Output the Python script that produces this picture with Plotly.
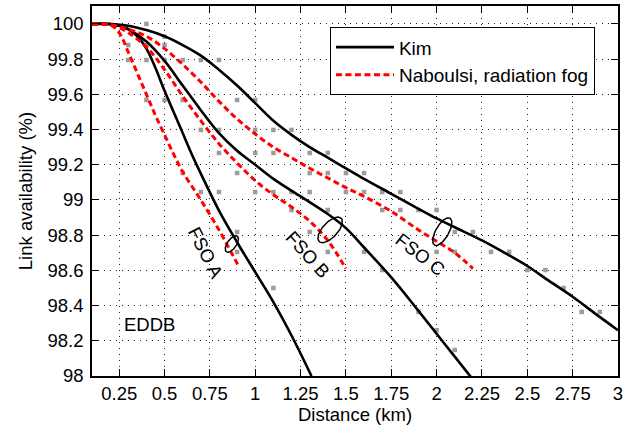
import numpy as np
import plotly.graph_objects as go

# ---------------- data ----------------
kim_a_x = [0.1, 0.2, 0.25, 0.3, 0.35, 0.4, 0.45, 0.5, 0.55, 0.6, 0.65, 0.7, 0.8, 0.9, 1.0, 1.1, 1.2, 1.31]
kim_a_y = [100, 100, 99.99, 99.97, 99.93, 99.86, 99.75, 99.62, 99.50, 99.38, 99.26, 99.15, 98.94, 98.76, 98.59, 98.42, 98.23, 98.0]

nab_a_x = [0.1, 0.15, 0.2, 0.25, 0.3, 0.35, 0.4, 0.45, 0.5, 0.55, 0.6, 0.7, 0.8, 0.9, 0.91]
nab_a_y = [100, 100, 99.995, 99.95, 99.84, 99.72, 99.60, 99.48, 99.37, 99.26, 99.16, 99.0, 98.83, 98.64, 98.62]

kim_b_x = [0.1, 0.2, 0.25, 0.3, 0.4, 0.5, 0.6, 0.7, 0.8, 0.9, 1.0, 1.1, 1.25, 1.4, 1.5, 1.6, 1.75, 1.9, 2.0, 2.1, 2.2]
kim_b_y = [100, 100, 99.99, 99.97, 99.90, 99.79, 99.65, 99.51, 99.38, 99.28, 99.20, 99.12, 99.02, 98.92, 98.84, 98.73, 98.56, 98.37, 98.24, 98.11, 97.98]

nab_b_x = [0.1, 0.2, 0.25, 0.3, 0.4, 0.5, 0.6, 0.7, 0.8, 0.9, 1.0, 1.1, 1.2, 1.3, 1.4, 1.5]
nab_b_y = [100, 99.995, 99.98, 99.95, 99.87, 99.74, 99.59, 99.45, 99.32, 99.21, 99.11, 99.03, 98.96, 98.88, 98.77, 98.61]

kim_c_x = [0.1, 0.2, 0.3, 0.4, 0.5, 0.6, 0.7, 0.8, 0.9, 1.0, 1.1, 1.2, 1.3, 1.4, 1.5, 1.6, 1.75, 1.9, 2.0, 2.1, 2.25, 2.4, 2.5, 2.62, 2.75, 2.88, 3.0]
kim_c_y = [100, 100, 99.99, 99.965, 99.93, 99.88, 99.82, 99.74, 99.65, 99.55, 99.45, 99.37, 99.30, 99.24, 99.18, 99.12, 99.035, 98.95, 98.895, 98.845, 98.77, 98.685, 98.625, 98.54, 98.45, 98.35, 98.26]

nab_c_x = [0.1, 0.2, 0.3, 0.4, 0.5, 0.6, 0.7, 0.8, 0.9, 1.0, 1.1, 1.2, 1.3, 1.4, 1.5, 1.6, 1.75, 1.9, 2.0, 2.1, 2.2]
nab_c_y = [100, 99.995, 99.97, 99.93, 99.86, 99.77, 99.67, 99.56, 99.46, 99.375, 99.30, 99.24, 99.18, 99.125, 99.07, 99.02, 98.935, 98.83, 98.765, 98.70, 98.61]

meas_x = [0.3, 0.3,
          0.4, 0.4, 0.4, 0.4,
          0.5, 0.5, 0.5, 0.5,
          0.6, 0.6, 0.6,
          0.7, 0.7, 0.7,
          0.8, 0.8, 0.8, 0.8,
          0.9, 0.9, 0.9, 0.9,
          1.0, 1.0, 1.0, 1.0,
          1.1, 1.1, 1.1, 1.1,
          1.2, 1.2, 1.2,
          1.3, 1.3, 1.3, 1.3,
          1.4, 1.4, 1.4, 1.4,
          1.5, 1.5,
          1.6, 1.6, 1.6,
          1.7, 1.7, 1.7,
          1.8, 1.8,
          1.9, 1.9,
          2.0, 2.0, 2.0,
          2.1, 2.1, 2.1,
          2.2, 2.3, 2.4, 2.5, 2.6, 2.7, 2.8, 2.9]
meas_y = [99.795, 99.88,
          100, 99.88, 99.795, 99.568,
          99.928, 99.88, 99.795, 99.568,
          99.795, 99.568, 99.153,
          99.795, 99.398, 99.045,
          99.795, 99.398, 99.267, 99.045,
          99.568, 99.153, 98.818, 98.705,
          99.568, 99.398, 99.267, 99.045,
          99.398, 99.267, 99.045, 98.5,
          99.398, 99.045, 98.943,
          99.267, 99.153, 99.045, 98.818,
          99.267, 99.153, 98.943, 98.705,
          99.153, 99.045,
          99.153, 99.045, 98.705,
          99.045, 98.943, 98.602,
          99.045, 98.943,
          98.943, 98.364,
          98.943, 98.705, 98.26,
          98.818, 98.705, 98.148,
          98.818, 98.705, 98.705, 98.602, 98.602, 98.5, 98.364, 98.364]

x_tick_vals = [0.25, 0.5, 0.75, 1, 1.25, 1.5, 1.75, 2, 2.25, 2.5, 2.75, 3]
x_tick_text = ["0.25", "0.5", "0.75", "1", "1.25", "1.5", "1.75", "2", "2.25", "2.5", "2.75", "3"]
y_tick_vals = [98, 98.2, 98.4, 98.6, 98.8, 99, 99.2, 99.4, 99.6, 99.8, 100]
y_tick_text = ["98", "98.2", "98.4", "98.6", "98.8", "99", "99.2", "99.4", "99.6", "99.8", "100"]

link_labels = ["FSO A", "FSO B", "FSO C"]
label_x = [0.725, 1.29, 1.91]
label_y = [98.70, 98.69, 98.69]
label_angle = [63, 48, 38]

ellipse_cx = [0.871, 1.413, 2.031]
ellipse_cy = [98.75, 98.83, 98.82]
ellipse_a_px = [9.5, 16, 15.5]
ellipse_b_px = [4.5, 7.5, 6.5]
ellipse_ang = [55, 47, 60]

# ---------------- layout constants ----------------
W, H = 628, 433
ML, MR, MT, MB = 92, 10, 6, 57
XR = [0.1, 3.0]
YR = [98.0, 100.102]
FONT = "Liberation Sans, Arial, sans-serif"
FS = 18.5

px_per_x = (W - ML - MR) / (XR[1] - XR[0])
px_per_y = (H - MT - MB) / (YR[1] - YR[0])

fig = go.Figure()

fig.add_trace(go.Scatter(x=meas_x, y=meas_y, mode="markers",
                         marker=dict(symbol="square", size=4.5, color="#9c9c9c", line=dict(width=0)),
                         showlegend=False, hoverinfo="skip"))

kim = [(kim_a_x, kim_a_y), (kim_b_x, kim_b_y), (kim_c_x, kim_c_y)]
nab = [(nab_a_x, nab_a_y), (nab_b_x, nab_b_y), (nab_c_x, nab_c_y)]

for i, (xs, ys) in enumerate(kim):
    fig.add_trace(go.Scatter(x=xs, y=ys, mode="lines", name="Kim", legendgroup="kim",
                             showlegend=(i == 0),
                             line=dict(color="black", width=2.6, shape="spline", smoothing=1.0)))
for i, (xs, ys) in enumerate(nab):
    fig.add_trace(go.Scatter(x=xs, y=ys, mode="lines", name="Naboulsi, radiation fog", legendgroup="nab",
                             showlegend=(i == 0),
                             line=dict(color="#ff0000", width=3, dash="6px,3.5px", shape="spline", smoothing=1.0)))

t = np.linspace(0, 2 * np.pi, 80)
for cx, cy, a, b, ang in zip(ellipse_cx, ellipse_cy, ellipse_a_px, ellipse_b_px, ellipse_ang):
    th = np.deg2rad(ang)
    dx = a * np.cos(t) * np.cos(th) - b * np.sin(t) * np.sin(th)
    dy = a * np.cos(t) * np.sin(th) + b * np.sin(t) * np.cos(th)
    fig.add_trace(go.Scatter(x=cx + dx / px_per_x, y=cy + dy / px_per_y, mode="lines",
                             line=dict(color="black", width=1.5), showlegend=False, hoverinfo="skip"))

for txt, lx, ly, ang in zip(link_labels, label_x, label_y, label_angle):
    fig.add_annotation(x=lx, y=ly, text=txt, showarrow=False, textangle=ang,
                       font=dict(family=FONT, size=FS, color="black"))

fig.add_annotation(x=0.416, y=98.29, text="EDDB", showarrow=False,
                   font=dict(family=FONT, size=FS, color="black"))

axis_common = dict(showline=True, linecolor="black", linewidth=1.5, mirror="ticks",
                   ticks="inside", ticklen=7, tickwidth=1.3, tickcolor="black",
                   showgrid=True, gridcolor="#222222", gridwidth=1.1, griddash="1.3px,4.7px",
                   zeroline=False, tickfont=dict(family=FONT, size=FS, color="black"))

fig.update_xaxes(range=XR, tickvals=x_tick_vals, ticktext=x_tick_text,
                 title=dict(text="Distance (km)", font=dict(family=FONT, size=FS, color="black"), standoff=4),
                 ticklabelstandoff=0, **axis_common)
fig.update_yaxes(range=YR, tickvals=y_tick_vals, ticktext=y_tick_text,
                 title=dict(text="Link availability (%)", font=dict(family=FONT, size=FS, color="black"), standoff=10),
                 ticklabelstandoff=3, **axis_common)

fig.update_layout(width=W, height=H, margin=dict(l=ML, r=MR, t=MT, b=MB, autoexpand=False),
                  paper_bgcolor="white", plot_bgcolor="white",
                  font=dict(family=FONT, size=FS, color="black"),
                  legend=dict(x=0.452, y=0.943, xanchor="left", yanchor="top",
                              bgcolor="white", bordercolor="black", borderwidth=1.2,
                              font=dict(family=FONT, size=19, color="black"),
                              itemwidth=58, tracegroupgap=0))

fig.write_html("out.html", config={"displayModeBar": False},
               post_script="document.body.style.margin='0';document.body.style.padding='0';")
